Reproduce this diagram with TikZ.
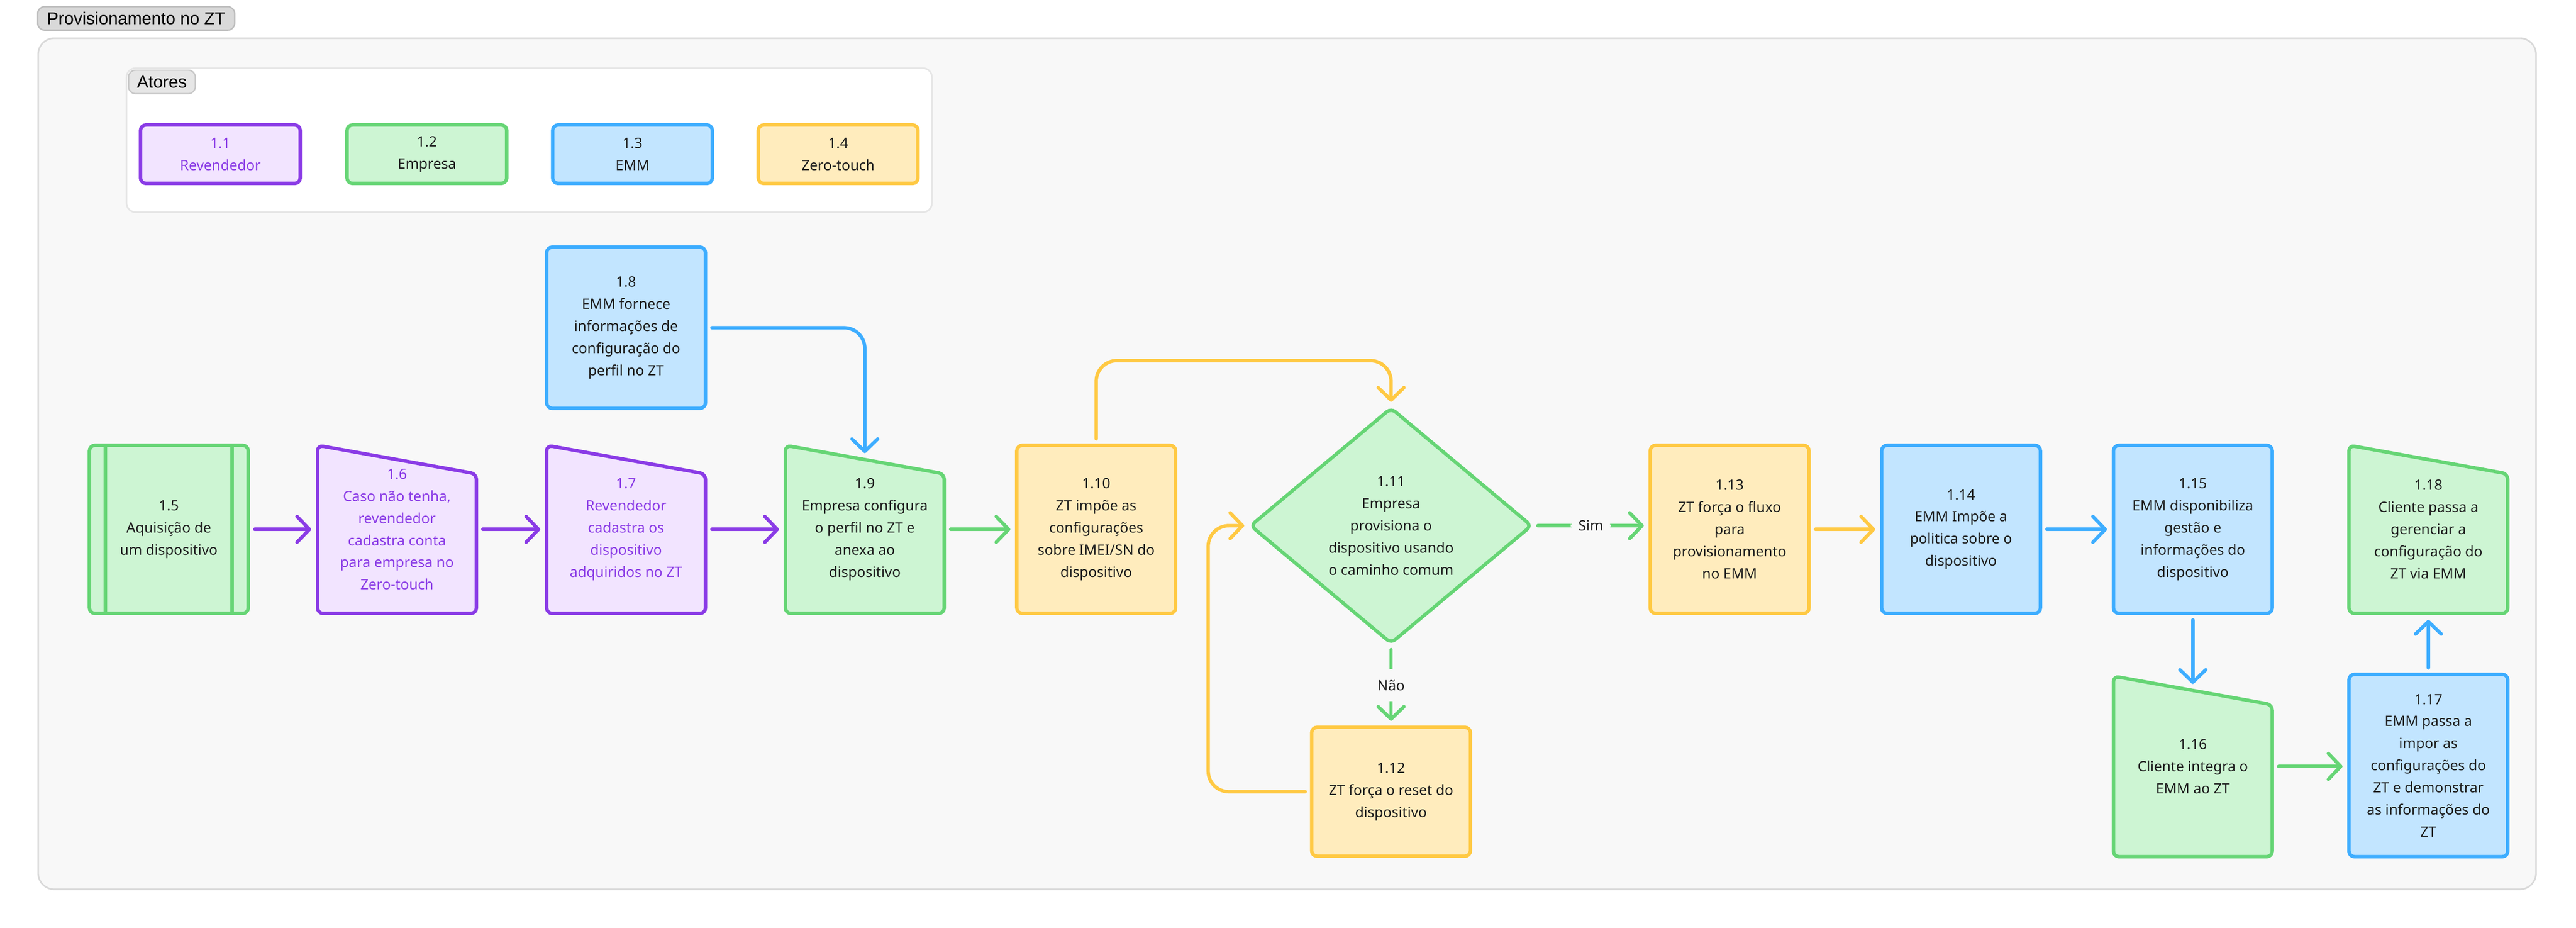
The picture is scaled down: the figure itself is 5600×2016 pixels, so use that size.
\documentclass[tikz,border=0pt]{standalone}
\usepackage{fontspec}
\setmainfont{Noto Sans}
\newfontfamily\tagfont{Liberation Sans}
\usetikzlibrary{arrows.meta,shapes.geometric,calc}

\definecolor{prpline}{HTML}{8A3BE6}
\definecolor{prpfill}{HTML}{F2E4FF}
\definecolor{grnline}{HTML}{66D575}
\definecolor{grnfill}{HTML}{CDF5D3}
\definecolor{bluline}{HTML}{3DADFF}
\definecolor{blufill}{HTML}{C2E5FF}
\definecolor{ylwline}{HTML}{FFC943}
\definecolor{ylwfill}{HTML}{FFECBD}
\definecolor{inktext}{HTML}{1E1E1E}
\definecolor{canvas}{HTML}{F8F8F8}
\definecolor{frameline}{HTML}{D9D9D9}
\definecolor{groupline}{HTML}{E6E6E6}
\definecolor{tagfill}{HTML}{D9D9D9}
\definecolor{tagline}{HTML}{BDBDBD}
\definecolor{subtagfill}{HTML}{E6E6E6}
\definecolor{subtagline}{HTML}{C8C8C8}

\pgfdeclarelayer{back}
\pgfdeclarelayer{mid}
\pgfsetlayers{back,mid,main}

\tikzset{
  box/.style={rectangle, rounded corners=0.12cm, line width=0.075cm, outer sep=0pt, inner sep=0pt,
    minimum width=3.45cm, minimum height=3.65cm, align=center, text=inktext,
    font=\fontsize{8.8pt}{13.66pt}\selectfont},
  prp/.style={box, draw=prpline, fill=prpfill, text=prpline},
  grn/.style={box, draw=grnline, fill=grnfill},
  blu/.style={box, draw=bluline, fill=blufill},
  ylw/.style={box, draw=ylwline, fill=ylwfill},
  manual/.style={box, draw=none, fill=none},
  decision/.style={diamond, aspect=1.2, draw=grnline, fill=grnfill, line width=0.075cm,
    rounded corners=0.12cm, outer sep=0pt, inner sep=0pt, minimum width=6.1cm, minimum height=5.1cm,
    align=center, text=inktext, font=\fontsize{8.8pt}{13.66pt}\selectfont},
  tag/.style={rectangle, rounded corners=0.15cm, line width=0.03cm, inner sep=0pt, minimum height=0.51cm,
    text=black, text depth=0pt, font=\tagfont\fontsize{10.67pt}{12pt}\selectfont},
  flow/.style={line width=0.075cm, line cap=round, line join=round, rounded corners=0.45cm,
    shorten <=0.14cm, shorten >=0.14cm, -{Straight Barb[length=0.27cm,width=0.56cm,round]}},
  answer/.style={fill=canvas, inner xsep=0.17cm, inner ysep=0.23cm, text=inktext,
    font=\fontsize{8.8pt}{13.66pt}\selectfont},
}

\begin{document}
\begin{tikzpicture}[x=0.01cm, y=-0.01cm]     % pixel grid, y grows downwards
\useasboundingbox (0,0) rectangle (5600,2016);
\begin{pgfonlayer}{back}
  \fill[white] (0,0) rectangle (5600,2016);
  \draw[draw=frameline, fill=canvas, line width=0.035cm, rounded corners=0.35cm] (83,83) rectangle (5513,1932);
  \draw[draw=groupline, fill=white, line width=0.035cm, rounded corners=0.2cm] (275,148) rectangle (2026,461);
\end{pgfonlayer}

\node[tag, fill=tagfill, draw=tagline, minimum width=4.28cm] (title) at (296,40) {Provisionamento no ZT};
\node[tag, fill=subtagfill, draw=subtagline, minimum width=1.45cm] (atores) at (352,178) {Atores};

% actors
\node[prp, minimum width=3.47cm, minimum height=1.27cm] (a1) at (479,335) {1.1\\Revendedor};
\node[grn, minimum width=3.47cm, minimum height=1.27cm] (a2) at (928,335) {1.2\\Empresa};
\node[blu, minimum width=3.47cm, minimum height=1.27cm] (a3) at (1375,335) {1.3\\EMM};
\node[ylw, minimum width=3.47cm, minimum height=1.27cm] (a4) at (1822,335) {1.4\\Zero-touch};

% flow
\node[grn] (n5) at (367,1150) {1.5\\Aquisição de\\um dispositivo};
\node[manual, text=prpline] (n6) at (863,1150) {1.6\\Caso não tenha,\\revendedor\\cadastra conta\\para empresa no\\Zero-touch};
\node[manual, text=prpline] (n7) at (1361,1150) {1.7\\Revendedor\\cadastra os\\dispositivo\\adquiridos no ZT};
\node[blu, minimum height=3.5cm] (n8) at (1361,712) {1.8\\EMM fornece\\informações de\\configuração do\\perfil no ZT};
\node[manual] (n9) at (1880,1150) {1.9\\Empresa configura\\o perfil no ZT e\\anexa ao\\dispositivo};
\node[ylw] (n10) at (2383,1150) {1.10\\ZT impõe as\\configurações\\sobre IMEI/SN do\\dispositivo};
\node[decision] (n11) at (3024,1142) {1.11\\Empresa\\provisiona o\\dispositivo usando\\o caminho comum};
\node[ylw, minimum height=2.8cm] (n12) at (3024,1720) {1.12\\ZT força o reset do\\dispositivo};
\node[ylw] (n13) at (3760,1150) {1.13\\ZT força o fluxo\\para\\provisionamento\\no EMM};
\node[blu] (n14) at (4263,1150) {1.14\\EMM Impõe a\\politica sobre o\\dispositivo};
\node[blu] (n15) at (4767,1150) {1.15\\EMM disponibiliza\\gestão e\\informações do\\dispositivo};
\node[manual, minimum height=3.92cm] (n16) at (4767,1665) {1.16\\Cliente integra o\\EMM ao ZT};
\node[blu, minimum height=3.96cm] (n17) at (5279,1663) {1.17\\EMM passa a\\impor as\\configurações do\\ZT e demonstrar\\as informações do\\ZT};
\node[manual] (n18) at (5279,1150) {1.18\\Cliente passa a\\gerenciar a\\configuração do\\ZT via EMM};

\begin{pgfonlayer}{mid}
  \foreach \n/\ln/\fl in {n6/prpline/prpfill,n7/prpline/prpfill,n9/grnline/grnfill,n16/grnline/grnfill,n18/grnline/grnfill}
    \draw[line width=0.075cm, rounded corners=0.12cm, draw=\ln, fill=\fl]
      (\n.south west) -- (\n.north west) -- ($(\n.north east)+(0,62)$) -- (\n.south east) -- cycle;
\end{pgfonlayer}
\draw[grnline, line width=0.075cm] ($(n5.north west)+(35,0)$) -- ($(n5.south west)+(35,0)$);
\draw[grnline, line width=0.075cm] ($(n5.north east)+(-35,0)$) -- ($(n5.south east)+(-35,0)$);

\coordinate (n9top) at ($(n9.north)+(0,31)$);
\coordinate (n16top) at ($(n16.north)+(0,31)$);

\draw[flow, prpline] (n5.east) -- (n6.west);
\draw[flow, prpline] (n6.east) -- (n7.west);
\draw[flow, prpline] (n7.east) -- (n9.west);
\draw[flow, bluline] (n8.east) -| (n9top);
\draw[flow, grnline] (n9.east) -- (n10.west);
\draw[flow, ylwline] (n10.north) -- ++(0,-184) -| (n11.north);
\draw[flow, grnline] (n11.east) -- (n11.east -| n13.west) node[answer, midway] (sim) {Sim};
\draw[flow, grnline] (n11.south) -- (n12.north) node[answer, midway] (nao) {Não};
\draw[flow, ylwline] (n12.west) -- ++(-225,0) |- (n11.west);
\draw[flow, ylwline] (n13.east) -- (n14.west);
\draw[flow, bluline] (n14.east) -- (n15.west);
\draw[flow, bluline] (n15.south) -- (n16top);
\draw[flow, grnline] (n16.east) -- (n16.east -| n17.west);
\draw[flow, bluline] (n17.north) -- (n18.south);
\end{tikzpicture}
\end{document}
